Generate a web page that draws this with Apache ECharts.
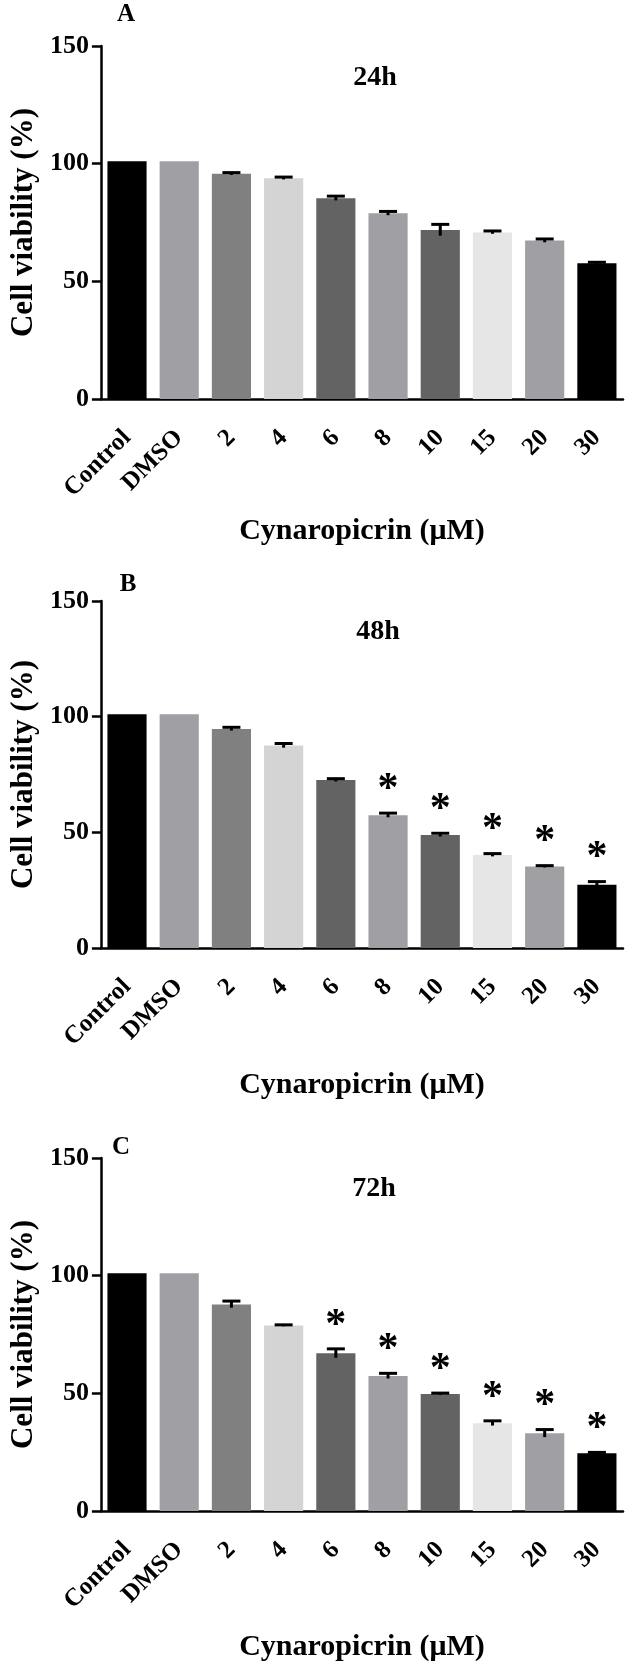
<!DOCTYPE html>
<html>
<head>
<meta charset="utf-8">
<script src="https://cdn.jsdelivr.net/npm/echarts@6/dist/echarts.min.js"></script>
<style>
html,body{margin:0;padding:0;background:#fff;}
#c{width:628px;height:1665px;}
</style>
</head>
<body>
<div id="c"></div>
<script>
const categories = ['Control','DMSO','2','4','6','8','10','15','20','30'];
const barColors = ['#000000','#a0a0a4','#808080','#d4d4d4','#636363','#a0a0a4','#636363','#e6e6e6','#a0a0a4','#000000'];
const yTicks = [0, 50, 100, 150];

const panelLetters = ['A','B','C'];
const panelTitles = ['24h','48h','72h'];

const values24 = [101, 101, 95.7, 93.8, 85.3, 78.9, 71.8, 70.8, 67.3, 57.7];
const sem24    = [0, 0, 0.5, 0.5, 0.9, 0.8, 2.4, 0.6, 0.7, 0.4];
const sig24    = [0, 0, 0, 0, 0, 0, 0, 0, 0, 0];

const values48 = [101, 101, 94.7, 87.5, 72.6, 57.4, 48.9, 40.2, 35.2, 27.3];
const sem48    = [0, 0, 0.7, 0.9, 0.6, 0.9, 0.7, 0.6, 0.4, 1.4];
const sig48    = [0, 0, 0, 0, 0, 1, 1, 1, 1, 1];

const values72 = [101, 101, 87.8, 78.8, 67.0, 57.4, 49.7, 37.3, 33.0, 24.5];
const sem72    = [0, 0, 1.4, 0.3, 1.9, 1.1, 0.4, 1.0, 1.6, 0.4];
const sig72    = [0, 0, 0, 0, 1, 1, 1, 1, 1, 1];

const FONT = "'Liberation Serif','Times New Roman',serif";
const panels = [
  {vals: values24, sem: sem24, sig: sig24, top: 46, height: 353, nameGap: 117},
  {vals: values48, sem: sem48, sig: sig48, top: 601, height: 347, nameGap: 122},
  {vals: values72, sem: sem72, sig: sig72, top: 1158, height: 353, nameGap: 121}
];

const grids = [], xAxes = [], yAxes = [], series = [], graphics = [];
panels.forEach((p, k) => {
  grids.push({left: 94, width: 529, top: p.top, height: p.height});
  xAxes.push({
    type: 'category', gridIndex: k, data: categories,
    axisLine: {lineStyle: {color: '#000', width: 2.5}},
    axisTick: {alignWithLabel: true, length: 11, lineStyle: {color: '#000', width: 2.5}},
    axisLabel: {interval: 0, rotate: 45, margin: 35, color: '#000', fontSize: 25, fontWeight: 'bold', fontFamily: FONT},
    name: 'Cynaropicrin (\u03bcM)', nameLocation: 'middle', nameGap: p.nameGap,
    nameTextStyle: {color: '#000', fontSize: 30, fontWeight: 'bold', fontFamily: FONT}
  });
  yAxes.push({
    type: 'value', gridIndex: k, min: yTicks[0], max: yTicks[yTicks.length - 1], interval: 50,
    axisLine: {show: true, lineStyle: {color: '#000', width: 2.5}},
    axisTick: {show: true, length: 9, lineStyle: {color: '#000', width: 2.5}},
    splitLine: {show: false},
    axisLabel: {margin: 12, color: '#000', fontSize: 26, fontWeight: 'bold', fontFamily: FONT},
    name: 'Cell viability (%)', nameLocation: 'middle', nameGap: 61, nameRotate: 90,
    nameTextStyle: {color: '#000', fontSize: 31, fontWeight: 'bold', fontFamily: FONT}
  });
  series.push({
    type: 'bar', xAxisIndex: k, yAxisIndex: k, barCategoryGap: '25%',
    data: p.vals.map((v, i) => ({value: v, itemStyle: {color: barColors[i]}})),
    animation: false
  });
  series.push({
    type: 'custom', xAxisIndex: k, yAxisIndex: k, z: 5,
    data: p.vals.map((v, i) => [i, v, p.sem[i], p.sig[i]]),
    encode: {x: 0, y: 1},
    animation: false,
    renderItem: function (params, api) {
      const x = api.value(0), v = api.value(1), e = api.value(2), s = api.value(3);
      const topP = api.coord([x, v + e]);
      const botP = api.coord([x, v - e]);
      const children = [];
      if (e > 0) {
        children.push({type: 'line', shape: {x1: topP[0], y1: topP[1], x2: botP[0], y2: botP[1]},
          style: {stroke: '#000', lineWidth: 3}});
        children.push({type: 'line', shape: {x1: topP[0] - 9, y1: topP[1], x2: topP[0] + 9, y2: topP[1]},
          style: {stroke: '#000', lineWidth: 3}});
      }
      if (s) {
        children.push({type: 'text', x: topP[0], y: topP[1] - 2,
          style: {text: '*', fill: '#000', fontSize: 42, fontWeight: 'bold', fontFamily: FONT,
            textAlign: 'center', textVerticalAlign: 'bottom'}});
      }
      return {type: 'group', children: children};
    }
  });
});

const letterPos = [[126, 15], [128, 585], [121, 1148]];
const titleY = [78, 632, 1189];
const titleX = [375, 378, 374];
panels.forEach((p, k) => {
  graphics.push({type: 'text', x: letterPos[k][0], y: letterPos[k][1],
    style: {text: panelLetters[k], fill: '#000', fontSize: 25, fontWeight: 'bold', fontFamily: FONT,
      textAlign: 'center', textVerticalAlign: 'middle'}});
  graphics.push({type: 'text', x: titleX[k], y: titleY[k],
    style: {text: panelTitles[k], fill: '#000', fontSize: 28, fontWeight: 'bold', fontFamily: FONT,
      textAlign: 'center', textVerticalAlign: 'middle'}});
});

const chart = echarts.init(document.getElementById('c'), null, {renderer: 'canvas'});
chart.setOption({
  backgroundColor: '#ffffff',
  animation: false,
  grid: grids, xAxis: xAxes, yAxis: yAxes, series: series, graphic: graphics
});
</script>
</body>
</html>
